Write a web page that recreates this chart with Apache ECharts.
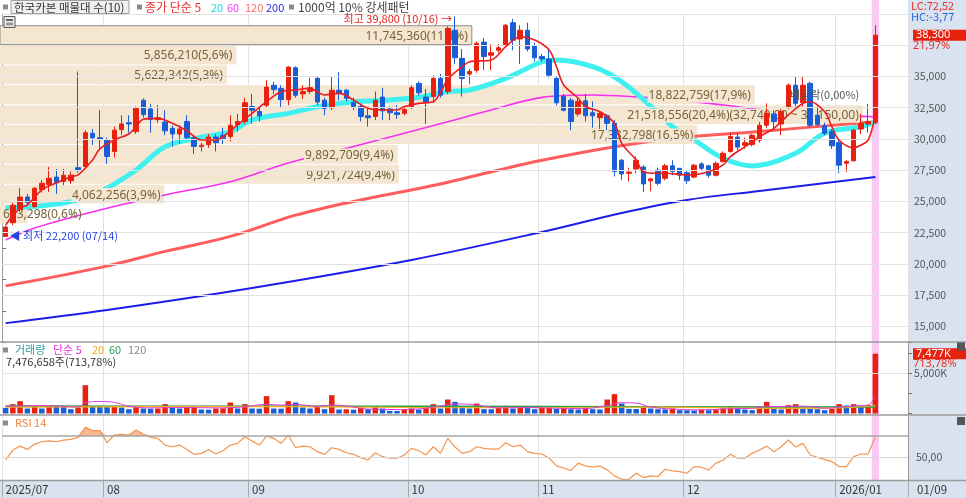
<!DOCTYPE html>
<html><head><meta charset="utf-8">
<script src="https://cdn.jsdelivr.net/npm/echarts@6/dist/echarts.min.js"></script>
<style>html,body{margin:0;padding:0;background:#fff}#c{width:966px;height:498px}</style>
</head><body><div id="c"></div>
<script>
// ---------- DATA ----------
const monthDays = [
  ['2025/07', '2025-07', [14,15,16,17,18,21,22,23,24,25,28,29,30,31]],
  ['08', '2025-08', [1,4,5,6,7,8,11,12,13,14,18,19,20,21,22,25,26,27,28,29]],
  ['09', '2025-09', [1,2,3,4,5,8,9,10,11,12,15,16,17,18,19,22,23,24,25,26,29,30]],
  ['10', '2025-10', [1,2,10,13,14,15,16,17,20,21,22,23,24,27,28,29,30,31]],
  ['11', '2025-11', [3,4,5,6,7,10,11,12,13,14,17,18,19,20,21,24,25,26,27,28]],
  ['12', '2025-12', [1,2,3,4,5,8,9,10,11,12,15,16,17,18,19,22,23,24,26,29,30]],
  ['2026/01', '2026-01', [2,5,6,7,8,9]]
];
const futureDays = ['2026-01-12','2026-01-13','2026-01-14','2026-01-15'];

const opens  = [22200,23300,24350,25350,24600,25950,26350,26950,26600,26650, 27700,27800,30450,30100,29900,29000,30750,31300,30600,33100, 32400,31550,31350,30850,30400,31400,30100,29400,29550,30150, 30300,30200,31150,31400,32600,32200,32700,34300,34050,33150, 35700,33600,33800,34850,33100,32500,33900,33900,32900,32600, 31850,31800,33350,32400,32100,32050,32600,34450,33350,33400, 34850,33800,38700,36450,35200,35500,37750,36700,37100,37550, 39300,38000,38700,37400,36600,36400,34850,33400,33100,32000, 33050,32100,31700,31850,31250,28300,27250,27600,27750,26650, 27500,26850,27850,27650,27300,26950,28000,27850,27100,28200, 29000,30150,29500,29550,29900,31100,32000,31200,32600,34300, 32900,34450,31900,31050,30600,29700,28050,28250,30800,31200, 31300];
const closes = [22950,24700,25350,24900,26050,26450,26850,26500,27100,27100, 27500,30500,30100,29950,28600,30700,31200,31200,32450,31950, 31550,31700,30650,30400,30800,30100,29400,29500,30150,29700, 30050,31100,31400,32900,32300,31850,34150,33950,33150,35750, 33500,33800,34100,32950,32450,33900,33650,33250,32600,31800, 31700,33100,32250,32100,31950,32350,34100,33700,32950,34850, 33500,38850,36500,34850,35400,37650,36600,36900,37300,39100, 37900,38700,37200,36500,36400,35100,32900,32300,31400,33000, 31850,31850,32050,31250,27400,27200,27350,28300,26400,26800, 26450,27850,27400,27100,26650,27900,27650,27100,28050,28850, 30200,29350,29700,30300,31100,32050,31400,32200,34300,32850, 34300,31100,31150,30450,29450,27900,28200,30700,31250,31400, 38300];
const lows   = [22200,23100,24160,24700,24500,25700,25760,25600,26300,26400, 27300,27600,29520,29100,28000,28500,30300,30500,30400,31700, 30500,31300,30300,29400,29600,29900,28800,29000,29300,29000, 29600,29800,30600,31200,31200,31400,32500,33600,32500,32700, 33300,33200,33600,32700,31900,32300,33100,33000,32300,31400, 31000,31500,31500,31500,31600,31900,32400,33450,31200,32900, 33300,33600,36000,33400,34400,35300,35500,35500,36900,37300, 37100,36000,37000,36200,36200,34900,32700,32200,30700,31800, 31400,30900,30800,30700,27000,26700,26600,27250,25750,25800, 26300,26700,27100,26700,26400,26850,27500,26900,27000,28100, 28900,29100,29200,29400,29700,30900,30700,30300,32400,32600, 32600,30900,31000,30300,29200,27250,27350,28200,30400,30500, 31200];
const highs  = [23050,24900,26080,25600,26150,26720,27760,27600,27600,27400, 35400,30700,30800,32300,30100,31000,31900,31900,32600,33250, 32800,32700,32300,31100,31100,31900,30300,29700,30400,30400, 30900,31900,32000,33300,33600,32500,34700,34600,34300,35800, 35800,34300,34900,35000,33300,35000,35350,34000,33300,32800, 32400,33800,34100,32600,32700,32600,34300,34600,34000,35100, 35200,39000,39800,37200,35600,37800,38100,37600,37600,39200, 39600,39100,39300,37700,36800,37100,35000,33600,33300,33300, 33600,33000,32200,32000,31500,28400,27700,28600,27900,26900, 27700,28000,28300,27650,27500,28000,28150,27900,28200,29000, 30500,30500,30100,30400,31350,32850,32300,32400,34450,35000, 35000,34600,32600,31300,30800,29950,28300,30800,32000,32800, 39100];

// volume in thousands of shares
const volumes = [710,1170,1540,625,920,625,920,830,820,540, 750,3540,920,830,800,850,750,540,920,625, 600,625,1170,750,625,830,850,500,480,625, 650,1375,625,1170,625,600,2170,625,600,1540, 1375,750,625,830,540,2290,500,520,480,750, 540,830,625,330,320,540,625,500,750,1170, 625,1750,1460,750,625,1250,540,530,750,960, 625,710,680,540,710,750,580,710,540,500, 710,540,500,1750,2420,1250,580,560,750,625, 540,520,625,420,400,380,500,420,500,670, 920,625,500,420,920,1460,580,500,1040,1170, 580,560,540,420,580,1170,1000,1170,920,1047, 7477];

const rsi14 = [47.5,56.8,60.5,57.4,62.4,64.6,65.5,64.6,66.2,66.8, 68.7,78.1,75,75,63.7,70.9,71.5,70.9,75.6,71.8, 68.7,67.8,61.5,59.9,61.5,57.4,52.8,53.7,57.4,53.1, 56.2,61.5,63.1,69.3,65.2,61.5,69.9,67.8,63.1,70.9, 59,60.5,59.9,55.3,52.8,59,57.4,54.3,52.8,49.7, 47.5,54.3,50.6,49.1,49.1,52.2,58.4,56.2,52.2,59.9, 53.7,67.8,59.6,53.7,55.3,59.9,58.4,57.7,57.7,63.7, 59.9,61.5,55.3,53.7,53.1,49.1,41.9,39.8,37.6,44.5, 41.9,40.7,41.9,38.2,32.6,29.4,29.4,35,31,32.6, 32,38.8,37.3,36.6,35,41.3,40.7,38.2,44.5,47.5, 52.8,49.1,49.1,53.7,56.8,60.5,55.3,59.9,66.2,59.6, 63.1,52.2,50,48.1,45.9,41.3,41.3,50.6,53.1,53.1, 69.3];

// moving averages: [dayIndex, value]
const ma5 = [[0,23120],[2,24480],[3,24720],[5,25920],[7,26480],[9,26980],[10,27120],[12,28320],[13,29200],[15,29920],[17,30400],[18,30980],[19,31580],[21,31650],[23,31250],[25,30660],[27,29920],[29,29920],[30,30180],[32,31120],[34,32050],[36,32980],[38,33780],[40,33920],[42,34050],[43,33780],[44,33520],[46,33650],[48,33120],[50,32450],[52,32320],[54,32320],[55,32580],[57,32850],[59,32980],[60,33700],[61,34770],[63,35780],[64,36180],[67,36320],[69,37380],[71,38180],[73,37920],[75,37120],[76,35780],[77,34320],[79,33260],[80,32580],[82,32180],[84,31250],[85,29650],[87,28320],[88,27380],[90,27250],[91,27250],[94,27120],[97,27380],[99,27920],[100,28580],[102,29380],[104,30180],[106,30850],[108,31920],[110,32850],[111,32980],[113,32180],[114,30980],[115,29900],[117,29300],[118,29500],[119,29900],[120,31950]];
const ma20 = [[0,24480],[8,24880],[13,25780],[18,27520],[22,29380],[27,30140],[31,30580],[34,31520],[39,32050],[43,32580],[48,32980],[53,33120],[57,33330],[61,33790],[64,33920],[69,34850],[74,36180],[76,36320],[81,35780],[85,34580],[90,32100],[92,31000],[95,29920],[99,28450],[103,27840],[109,28860],[113,30460],[118,30980],[120,31380]];
const ma60 = [[0,21920],[4,22880],[13,24320],[22,25520],[31,26580],[39,28080],[48,29390],[61,31380],[67,32320],[74,33330],[81,33520],[88,33330],[92,33170],[99,32720],[109,32050],[120,31780]];
const ma120 = [[0,18240],[13,19700],[22,21000],[31,22200],[40,23900],[48,25000],[60,26400],[74,28300],[90,29900],[104,30600],[120,31380]];
const ma200 = [[0,15260],[14,16320],[34,18080],[56,20320],[74,22560],[85,24080],[94,25120],[104,25840],[120,26960]];

const volMa5 = [[0,900],[5,1000],[10,800],[11,1350],[13,1500],[15,1400],[17,900],[20,700],[24,750],[30,700],[33,850],[36,1150],[38,1050],[40,1150],[43,900],[45,1050],[47,950],[50,550],[54,500],[58,650],[61,1100],[63,1200],[65,1050],[68,700],[72,750],[76,650],[80,620],[83,1000],[85,1350],[87,1300],[89,800],[92,560],[96,450],[100,600],[103,650],[105,900],[107,850],[109,920],[111,880],[113,650],[115,770],[117,960],[119,1060],[120,2290]];
const volMa20 = [[0,800],[20,850],[40,850],[60,720],[75,750],[90,800],[105,650],[115,700],[120,1000]];
const volMa60 = [[0,950],[30,900],[60,900],[90,830],[120,820]];
const volMa120 = [[0,900],[60,880],[120,800]];

// volume profile (매물대 10 bands)
const profileHigh = [39100,37510,35920,34330,32740,31150,29560,27970,26380,24790];
const profileLow  = [37510,35920,34330,32740,31150,29560,27970,26380,24790,23200];
const profileVol  = [11745360,5856210,5622342,18822759,21518556,17382798,9892709,9921724,4062256,633298];
const profilePct  = ['11,1','5,6','5,3','17,9','20,4','16,5','9,4','9,4','3,9','0,6'];

const priceGridLines = [15000,17500,20000,22500,25000,27500,30000,32500,35000,37500,40000];

// ---------- BUILD ----------
const dates = [], monthStart = {};
monthDays.forEach(([lab, ym, days]) => {
  monthStart[dates.length] = lab;
  days.forEach(d => dates.push(ym + '-' + String(d).padStart(2, '0')));
});
const cats = dates.concat(futureDays);
const last = dates.length - 1;
const RED = '#e8200e', BLUE = '#1a5ed6';
const F = '"Noto Sans CJK KR","Noto Sans",sans-serif';
const fmt = v => Math.round(v).toLocaleString('en-US');
const isMonth = i => monthStart[i] !== undefined;
const candle = dates.map((d, i) => [opens[i], closes[i], lows[i], highs[i]]);
const volData = volumes.map((v, i) => ({value: v, itemStyle: {color: (i > 0 && v > volumes[i-1]) ? RED : BLUE}}));
const maxIdx = profileVol.indexOf(Math.max(...profileVol));
const lastClose = closes[last];

const catAxis = (grid, extra) => Object.assign({
  type: 'category', gridIndex: grid, data: cats, boundaryGap: true,
  axisLine: {show: false}, axisTick: {show: false}, axisLabel: {show: false},
  splitLine: {show: true, interval: (i) => isMonth(i), lineStyle: {color: '#e2e2e2', width: 1}}
}, extra || {});

const lineS = (data, color, width, z, x, y) => ({
  type: 'line', data, xAxisIndex: x, yAxisIndex: y, smooth: 0.35, symbol: 'none', z,
  lineStyle: {color, width}, silent: true, animation: false
});

const option = {
  animation: false,
  grid: [
    {left: 2, right: 58, top: 14, height: 328},
    {left: 2, right: 58, top: 342, height: 71.5},
    {left: 2, right: 58, top: 415, height: 65}
  ],
  xAxis: [
    catAxis(0),
    {type: 'value', gridIndex: 0, min: 0, max: 22650000, show: false},
    catAxis(1),
    catAxis(2, {
      axisLine: {show: false},
      axisTick: {show: true, interval: (i) => isMonth(i), length: 17, lineStyle: {color: '#a8a8a8'}},
      axisLabel: {show: true, interval: (i) => isMonth(i), formatter: (v, i) => monthStart[i] || '',
        align: 'left', color: '#333', fontSize: 11.5, fontFamily: F, margin: 4}
    })
  ],
  yAxis: [
    {type: 'value', gridIndex: 0, position: 'right', min: 13750, max: 40000, interval: 1250,
      axisLine: {show: true, lineStyle: {color: '#9a9a9a'}},
      axisTick: {show: true, length: 4, lineStyle: {color: '#777'}},
      axisLabel: {color: '#555', fontSize: 10.5, fontFamily: F, margin: 6,
        formatter: v => (v % 2500 === 0 && v >= 15000 && v <= 35000) ? fmt(v) : ''},
      splitLine: {show: false}},
    {type: 'value', gridIndex: 1, position: 'right', min: 0, max: 8937.5, interval: 2500,
      axisLine: {show: true, lineStyle: {color: '#9a9a9a'}},
      axisTick: {show: true, length: 4, lineStyle: {color: '#777'}},
      axisLabel: {color: '#555', fontSize: 10.5, fontFamily: F, margin: 6,
        formatter: v => v === 5000 ? '5,000K' : ''},
      splitLine: {show: false}},
    {type: 'value', gridIndex: 2, position: 'right', min: 28.7, max: 89.7,
      axisLine: {show: true, lineStyle: {color: '#9a9a9a'}},
      axisTick: {show: false}, axisLabel: {show: false}, splitLine: {show: false}}
  ],
  series: [
    // price grid lines
    {type: 'line', xAxisIndex: 0, yAxisIndex: 0, data: [], z: 1, silent: true,
      markLine: {silent: true, symbol: ['none', 'none'], animation: false, label: {show: false},
        lineStyle: {color: '#e2e2e2', type: 'solid', width: 1},
        data: priceGridLines.map(v => ({yAxis: v}))}},
    // volume profile bands
    {type: 'custom', xAxisIndex: 1, yAxisIndex: 0, z: 2, silent: true, animation: false,
      data: profileVol.map((v, i) => [v, profileLow[i], profileHigh[i], i]),
      encode: {x: 0, y: [1, 2]},
      renderItem: (params, api) => {
        const v = api.value(0), lo = api.value(1), hi = api.value(2);
        const p0 = api.coord([0, hi]), p1 = api.coord([v, lo]);
        const cur = lastClose >= lo && lastClose < hi;
        return {type: 'rect', shape: {x: 0, y: p0[1] + 0.5, width: p1[0], height: p1[1] - p0[1] - 1},
          style: {fill: '#f5e6d2', stroke: cur ? '#8c8c8c' : null, lineWidth: 1}};
      }},
    // MAs
    lineS(ma200, '#1c1ce8', 2, 3, 0, 0),
    lineS(ma120, '#ff5c5c', 3, 3, 0, 0),
    lineS(ma60, '#f530f0', 1.6, 3, 0, 0),
    lineS(ma20, '#3ff0f0', 5, 3, 0, 0),
    // volume profile labels
    {type: 'custom', xAxisIndex: 1, yAxisIndex: 0, z: 3.5, silent: true, animation: false,
      data: profileVol.map((v, i) => [v, profileLow[i], profileHigh[i], i]),
      encode: {x: 0, y: [1, 2]},
      renderItem: (params, api) => {
        const v = api.value(0), lo = api.value(1), hi = api.value(2), i = api.value(3);
        const p0 = api.coord([0, hi]), p1 = api.coord([v, lo]);
        let txt = fmt(v) + '(' + profilePct[i] + '%)';
        if (i === maxIdx) txt += '(' + fmt(hi) + ',00 ~ ' + fmt(lo) + ',00)';
        const small = p1[0] < 110;
        return {type: 'text', x: small ? 2 : p1[0] - 3, y: (p0[1] + p1[1]) / 2 + 1,
          style: {text: txt, fill: '#76643a', font: '12px "Noto Sans",sans-serif',
            align: small ? 'left' : 'right', verticalAlign: 'middle',
            backgroundColor: small ? null : '#f5e6d2', padding: [1, 1]}};
      }},
    // candles
    {type: 'candlestick', xAxisIndex: 0, yAxisIndex: 0, data: candle, z: 4, barWidth: 5, silent: true,
      itemStyle: {color: RED, color0: BLUE, borderColor: RED, borderColor0: BLUE, borderWidth: 1}},
    lineS(ma5, '#ee1c1c', 1.6, 5, 0, 0),
    // volume
    {type: 'bar', xAxisIndex: 2, yAxisIndex: 1, data: volData, barWidth: 5.5, z: 2, silent: true,
      markLine: {silent: true, symbol: ['none', 'none'], label: {show: false},
        lineStyle: {color: '#e2e2e2', type: 'solid', width: 1}, data: [{yAxis: 5000}]}},
    lineS(volMa120, '#9a9a9a', 1, 3, 2, 1),
    lineS(volMa60, '#2aa050', 1.5, 3, 2, 1),
    lineS(volMa20, '#f0b020', 1.2, 3, 2, 1),
    lineS(volMa5, '#e23ad8', 1, 3, 2, 1),
    // RSI
    {type: 'line', xAxisIndex: 3, yAxisIndex: 2, data: rsi14.map(v => Math.max(v, 70)), symbol: 'none', z: 2,
      lineStyle: {width: 0, opacity: 0}, areaStyle: {origin: 70, color: '#f6ab80', opacity: 0.85}, silent: true},
    {type: 'line', xAxisIndex: 3, yAxisIndex: 2, data: rsi14, symbol: 'none', z: 3, silent: true,
      lineStyle: {color: '#f39450', width: 1.2},
      markLine: {silent: true, symbol: ['none', 'none'],
        data: [
          {yAxis: 70, lineStyle: {color: '#a6a6a6', type: 'solid', width: 1.5}, label: {show: false}},
          {yAxis: 50, lineStyle: {color: '#d6d6d6', type: 'solid', width: 1},
            label: {show: true, position: 'end', formatter: '50,00', color: '#555', fontSize: 10.5, fontFamily: F, distance: 8}}
        ]}}
  ]
};

const chart = echarts.init(document.getElementById('c'));
chart.setOption(option);

// ---------- overlays positioned through the chart's scales ----------
const px = (i, v) => chart.convertToPixel({xAxisIndex: 0, yAxisIndex: 0}, [i, v]);
const cLast = px(last, lastClose);
const bw = px(1, lastClose)[0] - px(0, lastClose)[0];
const vLast = chart.convertToPixel({xAxisIndex: 2, yAxisIndex: 1}, [last, volumes[last]]);
let hiIdx = 0, loIdx = 0;
highs.forEach((h, i) => { if (h > highs[hiIdx]) hiIdx = i; });
lows.forEach((l, i) => { if (l < lows[loIdx]) loIdx = i; });
const pHi = px(hiIdx, highs[hiIdx]);
const pLo = px(loIdx, lows[loIdx]);
const exDivIdx = dates.indexOf('2025-12-29');
const pEx = px(exDivIdx, 33500);
const md = d => d.slice(5, 7) + '/' + d.slice(8, 10);
const chg = ((closes[last] / closes[last - 1] - 1) * 100).toFixed(2).replace('.', ',');

const T = (x, y, text, fill, extra) => Object.assign({type: 'text', x, y, z: 100,
  style: Object.assign({text, fill, font: '11px ' + F, verticalAlign: 'middle'}, extra || {})});
const L = (x, y, text, fill, size) => T(x, y, text, fill, {font: (size || 12) + 'px ' + F});
const sq = (x, y) => ({type: 'rect', z: 100, shape: {x, y, width: 5, height: 5}, style: {fill: '#8c8c8c'}});
const hline = (y) => ({type: 'line', z: 50, shape: {x1: 0, y1: y, x2: 966, y2: y}, style: {stroke: '#9c9c9c', lineWidth: 1.5}});

const g = [
  {type: 'rect', z: -10, shape: {x: 908, y: 0, width: 58, height: 498}, style: {fill: '#d9e3f0'}},
  {type: 'rect', z: -10, shape: {x: 0, y: 481, width: 966, height: 17}, style: {fill: '#d9e3f0'}},
  {type: 'rect', z: -5, shape: {x: cLast[0] - bw / 2, y: 0, width: bw, height: 481}, style: {fill: '#fbc8f4'}},
  hline(342), hline(415), hline(480.5),
  // top legend
  sq(3, 4.5),
  {type: 'rect', z: 99, shape: {x: 11, y: 0.5, width: 118, height: 13}, style: {fill: '#f0f0f0', stroke: '#a0a0a0', lineWidth: 1}},
  L(14, 7.5, '한국카본 매물대 수(10)', '#333', 11.5),
  sq(137, 4.5),
  L(145, 7.5, '종가 단순 5', '#e8302a'),
  L(211, 7.5, '20', '#22d3e0', 11),
  L(227, 7.5, '60', '#f23cf0', 11),
  L(245, 7.5, '120', '#ff6a6a', 11),
  L(266, 7.5, '200', '#2b2bf0', 11),
  sq(289, 4.5),
  L(298, 7.5, '1000억 10% 강세패턴', '#444'),
  // grid icon
  {type: 'rect', z: 100, shape: {x: 4, y: 16.5, width: 11, height: 11}, style: {fill: '#eeeeee', stroke: '#555', lineWidth: 1}},
  {type: 'rect', z: 101, shape: {x: 6, y: 19, width: 7, height: 2}, style: {fill: '#666'}},
  {type: 'rect', z: 101, shape: {x: 6, y: 22.5, width: 7, height: 3}, style: {fill: '#999'}},
  // volume legend
  sq(3, 347.5),
  T(15, 350, '거래량', '#2e9c9c'),
  T(53, 350, '단순 5', '#e23ad8'),
  T(92, 350, '20', '#f0a820'),
  T(109, 350, '60', '#2aa050'),
  T(128, 350, '120', '#8a8a8a'),
  T(6, 362, fmt(volumes[last] * 1000 - 342) + '주(713,78%)', '#333'),
  // rsi legend
  sq(3, 420.5),
  T(15, 423, 'RSI 14', '#f08040'),
  // right strip
  T(911, 6, 'LC:72,52', '#e8302a'),
  T(911, 16.5, 'HC:-3,77', '#2a66e0'),
  {type: 'rect', z: 100, shape: {x: 913, y: cLast[1] - 5.5, width: 53, height: 11}, style: {fill: RED}},
  T(916, cLast[1], fmt(lastClose), '#fff', {font: '11px "Noto Sans",sans-serif'}),
  T(913, cLast[1] + 11, chg + '%', '#e8302a', {font: '11px "Noto Sans",sans-serif'}),
  {type: 'rect', z: 100, shape: {x: 913, y: vLast[1] - 5.5, width: 53, height: 11}, style: {fill: RED}},
  T(916, vLast[1], fmt(volumes[last]) + 'K', '#fff', {font: '11px "Noto Sans",sans-serif'}),
  T(913, vLast[1] + 10, '713,78%', '#e8302a', {font: '11px "Noto Sans",sans-serif'}),
  {type: 'rect', z: 100, shape: {x: 957, y: 342.5, width: 8, height: 8}, style: {fill: '#555'}},
  {type: 'rect', z: 100, shape: {x: 957, y: 417, width: 8, height: 8}, style: {fill: '#555'}},
  T(917, 490, md(dates[last]), '#333', {font: '11.5px ' + F}),
  // annotations
  T(pHi[0] - 3, pHi[1] + 2.5, '최고 ' + fmt(highs[hiIdx]) + ' (' + md(dates[hiIdx]) + ') →', '#e8201c', {align: 'right'}),
  T(pLo[0] + 4, pLo[1] - 1, '◀ 최저 ' + fmt(lows[loIdx]) + ' (' + md(dates[loIdx]) + ')', '#2746e0'),
  T(pEx[0], 95, '배당락(0,00%)', '#555', {align: 'center'})
];
chart.setOption({graphic: g});
</script>
</body></html>
